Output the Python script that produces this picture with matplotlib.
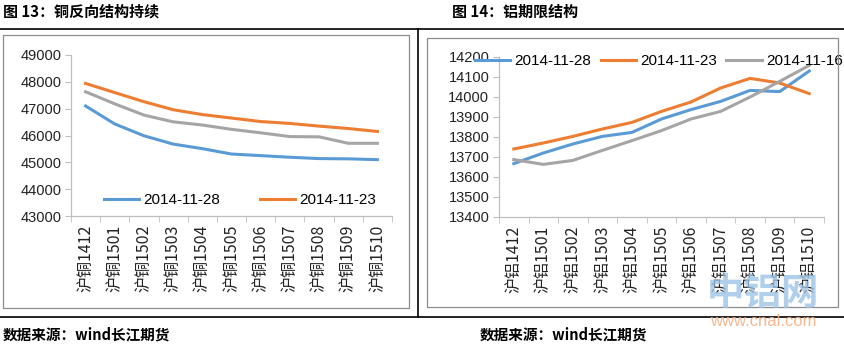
import matplotlib
matplotlib.use("Agg")
import matplotlib.pyplot as plt
from matplotlib.patches import Rectangle
from matplotlib.lines import Line2D

plt.rcParams['font.family'] = ['Noto Sans CJK SC', 'DejaVu Sans']

cu_labels = ["沪铜1412", "沪铜1501", "沪铜1502", "沪铜1503", "沪铜1504", "沪铜1505",
             "沪铜1506", "沪铜1507", "沪铜1508", "沪铜1509", "沪铜1510"]
cu_1128 = [47100, 46430, 45990, 45680, 45510, 45310, 45250, 45190, 45140, 45130, 45100]
cu_1123 = [47940, 47600, 47260, 46960, 46780, 46650, 46520, 46450, 46350, 46260, 46150]
cu_1116 = [47630, 47180, 46760, 46510, 46390, 46230, 46100, 45960, 45950, 45710, 45710]

al_labels = ["沪铝1412", "沪铝1501", "沪铝1502", "沪铝1503", "沪铝1504", "沪铝1505",
             "沪铝1506", "沪铝1507", "沪铝1508", "沪铝1509", "沪铝1510"]
al_1128 = [13667, 13720, 13765, 13803, 13823, 13890, 13937, 13978, 14033, 14027, 14130]
al_1123 = [13740, 13770, 13803, 13840, 13873, 13928, 13975, 14045, 14093, 14070, 14017]
al_1116 = [13687, 13663, 13683, 13733, 13782, 13832, 13890, 13928, 14000, 14078, 14158]

cu_yticks = [43000, 44000, 45000, 46000, 47000, 48000, 49000]
al_yticks = [13400, 13500, 13600, 13700, 13800, 13900, 14000, 14100, 14200]

BLUE = "#5B9BD5"
ORANGE = "#ED7D31"
GRAY = "#A5A5A5"
AXC = "#BFBFBF"

W, H = 844, 351
fig = plt.figure(figsize=(W / 100, H / 100), dpi=100)

def fx(x):
    return x / W

def fy(y):
    return 1 - y / H

def add_ax(x0, x1, ytop, ybot):
    return fig.add_axes([fx(x0), fy(ybot), fx(x1 - x0), (ybot - ytop) / H])

# frames
fig.patches.append(Rectangle((fx(3), fy(308)), fx(406), (308 - 35) / H, transform=fig.transFigure,
                             fill=False, edgecolor="#8C8C8C", lw=0.9))
fig.patches.append(Rectangle((fx(427), fy(307)), fx(411), (307 - 38) / H, transform=fig.transFigure,
                             fill=False, edgecolor="#8C8C8C", lw=0.9))
for (xa, xb, ya, yb) in [(0, 844, 29, 29), (0, 844, 317, 317), (418, 418, 29, 317)]:
    fig.lines.append(Line2D([fx(xa), fx(xb)], [fy(ya), fy(yb)], transform=fig.transFigure,
                            color="black", lw=1.2))

def style(ax, labels, yticks, ylim):
    x = range(len(labels))
    ax.set_xlim(-0.5, len(labels) - 0.5)
    ax.set_ylim(*ylim)
    ax.set_yticks(yticks)
    ax.set_yticklabels([str(v) for v in yticks], fontsize=10.5, color="#222222",
                       family=['Liberation Sans', 'DejaVu Sans'])
    ax.set_xticks(list(x))
    ax.set_xticklabels(labels, rotation=90, fontsize=11.5, color="#222222")
    ax.set_xticks([i - 0.5 for i in range(len(labels) + 1)], minor=True)
    ax.tick_params(axis='x', which='major', length=0, pad=6)
    ax.tick_params(axis='x', which='minor', length=4, color=AXC, direction='out')
    ax.tick_params(axis='y', length=4, color=AXC, direction='out', pad=3)
    for s in ['top', 'right']:
        ax.spines[s].set_visible(False)
    for s in ['left', 'bottom']:
        ax.spines[s].set_color(AXC)
        ax.spines[s].set_linewidth(0.9)
    ax.patch.set_alpha(0)

# left chart
ax1 = add_ax(71, 392, 55, 216)
x = range(len(cu_labels))
l1, = ax1.plot(x, cu_1128, color=BLUE, lw=2.2, label="2014-11-28")
l2, = ax1.plot(x, cu_1123, color=ORANGE, lw=2.2, label="2014-11-23")
ax1.plot(x, cu_1116, color=GRAY, lw=2.2, label="2014-11-16")
style(ax1, cu_labels, cu_yticks, (43000, 49000))
ax1.legend(handles=[l1, l2], loc='center', bbox_to_anchor=(fx(240), fy(200)),
           bbox_transform=fig.transFigure, ncol=2, frameon=False, handlelength=2.3,
           columnspacing=2.6, handletextpad=0.3,
           prop={'family': ['Liberation Sans', 'DejaVu Sans'], 'size': 11})

# right chart
ax2 = add_ax(499, 824, 57, 217)
x = range(len(al_labels))
m1, = ax2.plot(x, al_1128, color=BLUE, lw=2.2, label="2014-11-28")
m2, = ax2.plot(x, al_1123, color=ORANGE, lw=2.2, label="2014-11-23")
m3, = ax2.plot(x, al_1116, color=GRAY, lw=2.2, label="2014-11-16")
style(ax2, al_labels, al_yticks, (13400, 14200))
ax2.legend(handles=[m1, m2, m3], loc='center', bbox_to_anchor=(fx(659), fy(61)),
           bbox_transform=fig.transFigure, ncol=3, frameon=False, handlelength=2.3,
           columnspacing=0.6, handletextpad=0.3,
           prop={'family': ['Liberation Sans', 'DejaVu Sans'], 'size': 11})

# titles and sources
fig.text(fx(3), fy(12), "图 13：铜反向结构持续", fontsize=10.8, fontweight='bold', va='center', ha='left')
fig.text(fx(452), fy(12), "图 14：铝期限结构", fontsize=10.8, fontweight='bold', va='center', ha='left')
fig.text(fx(3), fy(334), "数据来源：wind长江期货", fontsize=10.5, fontweight='bold', va='center', ha='left')
fig.text(fx(480), fy(334), "数据来源：wind长江期货", fontsize=10.5, fontweight='bold', va='center', ha='left')

# watermark
fig.text(fx(763), fy(294), "中铝网", fontsize=27, fontweight='bold', color="#9DC3E6", alpha=0.8,
         va='center', ha='center')
fig.text(fx(763), fy(321), "www.cnal.com", fontsize=12, color="#F4B183", alpha=0.9,
         va='center', ha='center', family=['Liberation Sans', 'DejaVu Sans'])

fig.savefig("out.png", dpi=100)
